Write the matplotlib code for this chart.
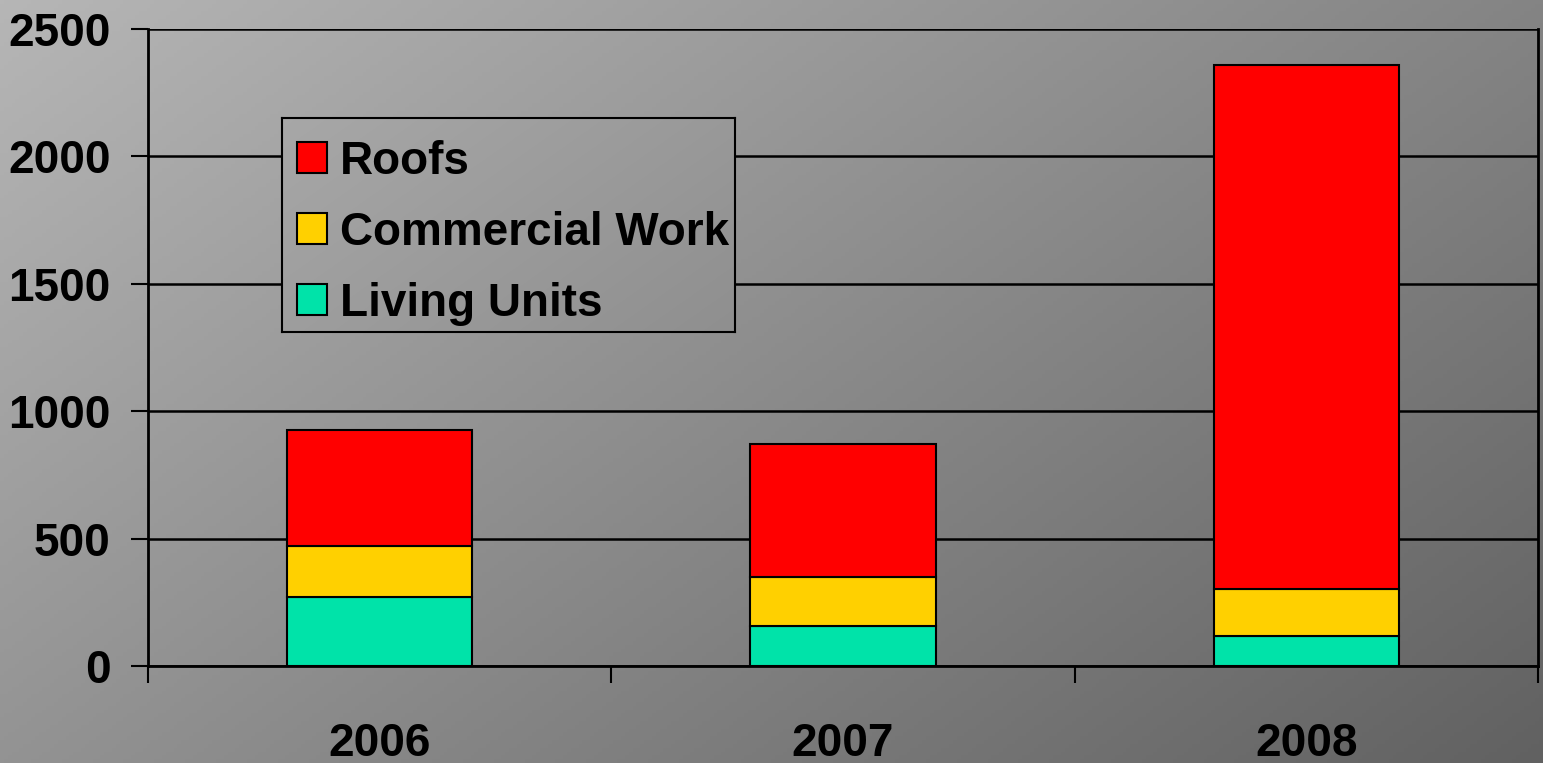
import numpy as np
import matplotlib
matplotlib.use("Agg")
import matplotlib.pyplot as plt

# data
years = ["2006", "2007", "2008"]
living_units = [270, 157, 118]
commercial_work = [200, 192, 184]
roofs = [455, 522, 2057]
yticks = [0, 500, 1000, 1500, 2000, 2500]

fs = 33
W, H = 1543, 763
plt.rcParams['font.family'] = ['Liberation Sans', 'DejaVu Sans']
plt.rcParams['font.weight'] = 'bold'


def grey_patch(x0, x1, y0, y1):
    # diagonal grey gradient, coordinates are fractions from the top-left corner
    gx, gy = np.meshgrid(np.linspace(x0, x1, 400), np.linspace(y0, y1, 200))
    shade = (182 - 50 * gx - 35 * gy) / 255.0
    return np.dstack([shade, shade, shade])


fig = plt.figure(figsize=(W / 100, H / 100), dpi=100)

bg = fig.add_axes([0, 0, 1, 1], zorder=0)
bg.imshow(grey_patch(0, 1, 0, 1), aspect='auto', extent=[0, 1, 0, 1], origin='upper')
bg.axis('off')

ax = fig.add_axes([148/W, 1 - 666/H, 1390/W, 637/H], zorder=1)
ax.patch.set_alpha(0)

x = np.arange(len(years))
w = 0.4
ec = dict(edgecolor='black', linewidth=1.5, zorder=3)
b1 = ax.bar(x, living_units, w, color='#00E3A9', label='Living Units', **ec)
b2 = ax.bar(x, commercial_work, w, bottom=living_units, color='#FFD000', label='Commercial Work', **ec)
base = np.array(living_units) + np.array(commercial_work)
b3 = ax.bar(x, roofs, w, bottom=base, color='#FF0000', label='Roofs', **ec)

ax.set_xlim(-0.5, 2.5)
ax.set_ylim(0, 2500)
ax.set_yticks(yticks)
ax.yaxis.grid(True, color='black', linewidth=1.8)
ax.set_axisbelow(True)

ax.set_xticks(x)
ax.set_xticklabels(years)
ax.set_xticks([-0.5, 0.5, 1.5, 2.5], minor=True)
ax.tick_params(axis='x', which='major', length=0, pad=40, labelsize=fs)
ax.tick_params(axis='x', which='minor', length=12, width=1.5, direction='out')
ax.tick_params(axis='y', length=12, width=1.5, direction='out', pad=15, labelsize=fs)

for s in ['left', 'bottom', 'right']:
    ax.spines[s].set_linewidth(2)
ax.spines['top'].set_visible(False)

# legend box: opaque, same gradient behind it, so the gridlines stop at its border
lx0, lx1, ly0, ly1 = 282, 735, 118, 332
lbox = fig.add_axes([lx0/W, 1 - ly1/H, (lx1 - lx0)/W, (ly1 - ly0)/H], zorder=2)
lbox.imshow(grey_patch(lx0/W, lx1/W, ly0/H, ly1/H), aspect='auto',
            extent=[0, 1, 0, 1], origin='upper')
lbox.set_xticks([])
lbox.set_yticks([])
for s in lbox.spines.values():
    s.set_linewidth(1.5)
    s.set_edgecolor('black')

leg = fig.legend([b3, b2, b1], ['Roofs', 'Commercial Work', 'Living Units'],
                 loc='upper left', bbox_to_anchor=(283/W, 1 - 126/H),
                 borderaxespad=0, fontsize=fs, frameon=False,
                 handlelength=0.65, handleheight=0.65, handletextpad=0.3,
                 labelspacing=0.59, borderpad=0.3)
leg.set_zorder(5)

fig.savefig('out.png', dpi=100)
